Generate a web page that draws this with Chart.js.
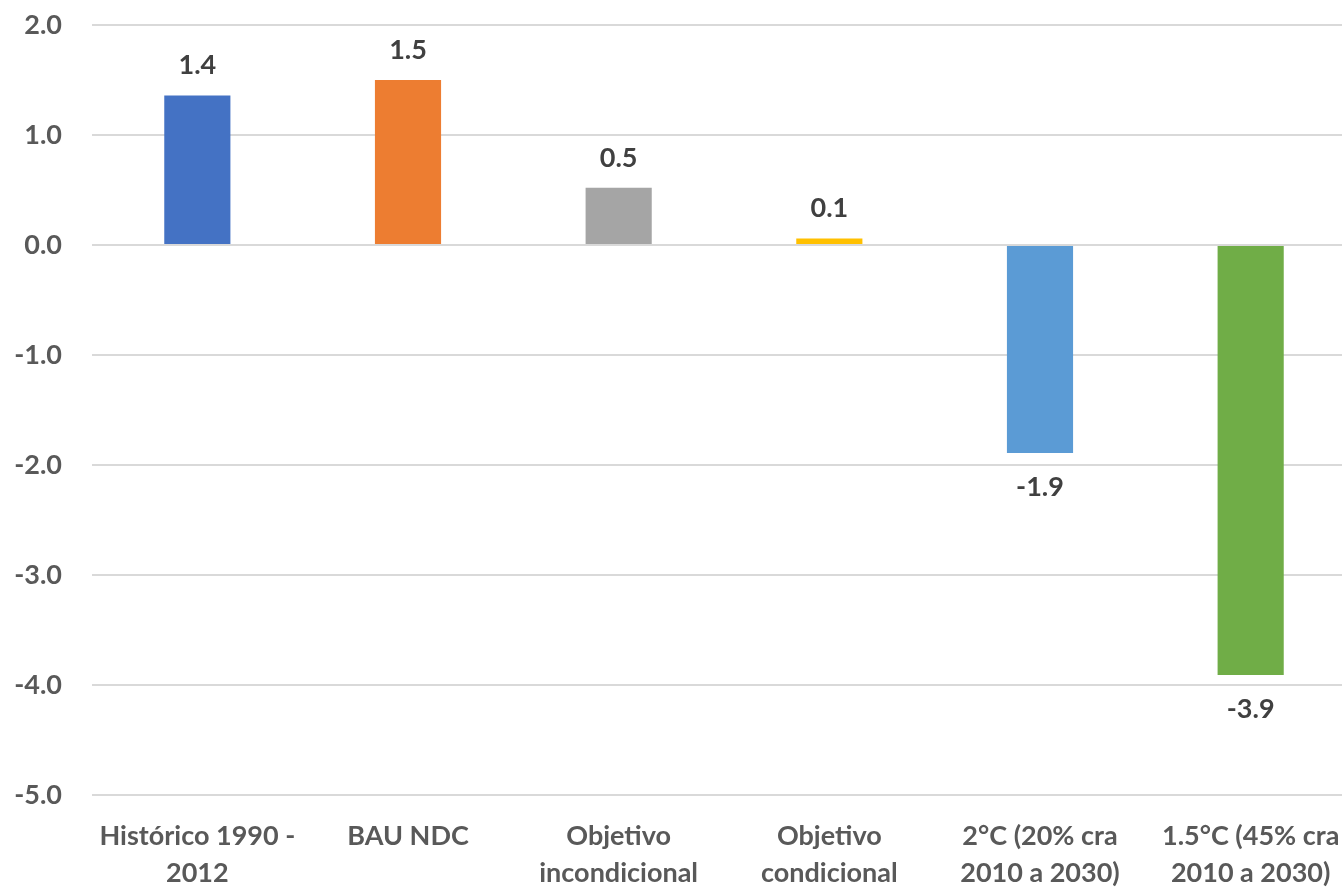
<!DOCTYPE html>
<html>
<head>
<meta charset="utf-8">
<script src="https://cdn.jsdelivr.net/npm/chart.js@4"></script>
<style>
  html, body { margin: 0; padding: 0; background: #fff; overflow: hidden; }
  #wrap { width: 1356px; height: 889px; }
</style>
</head>
<body>
<div id="wrap"><canvas id="chart" width="1356" height="889"></canvas></div>
<script>
// categorias (com quebra de linha como no original)
const categories = [
    ["Histórico 1990 -", "2012"],
    ["BAU NDC"],
    ["Objetivo", "incondicional"],
    ["Objetivo", "condicional"],
    ["2°C (20% cra", "2010 a 2030)"],
    ["1.5°C (45% cra", "2010 a 2030)"]
];
const values = [1.36, 1.5, 0.52, 0.06, -1.89, -3.91];
const valueLabels = ["1.4", "1.5", "0.5", "0.1", "-1.9", "-3.9"];
const barColors = ["#4472C4", "#ED7D31", "#A5A5A5", "#FFC000", "#5B9BD5", "#70AD47"];
const yTicks = [2, 1, 0, -1, -2, -3, -4, -5];

const fontFamily = "Lato, 'Open Sans', sans-serif";

// Plugin simples para escrever os valores acima / abaixo das barras
const valueLabelPlugin = {
    id: "valueLabels",
    afterDatasetsDraw(chart) {
        const ctx = chart.ctx;
        const meta = chart.getDatasetMeta(0);
        ctx.save();
        ctx.font = "bold 27px " + fontFamily;
        ctx.fillStyle = "#404040";
        ctx.textAlign = "center";
        ctx.textBaseline = "middle";
        meta.data.forEach((bar, i) => {
            const v = values[i];
            const y = v >= 0 ? bar.y - 30 : bar.y + 34;
            ctx.fillText(valueLabels[i], bar.x, y);
        });
        ctx.restore();
    }
};

new Chart(document.getElementById("chart"), {
    type: "bar",
    data: {
        labels: categories,
        datasets: [{
            data: values,
            backgroundColor: barColors,
            borderWidth: 0,
            categoryPercentage: 1,
            barPercentage: 0.314
        }]
    },
    options: {
        responsive: false,
        animation: false,
        layout: { padding: { top: 25, left: 0, right: 0, bottom: 0 } },
        plugins: {
            legend: { display: false },
            tooltip: { enabled: false }
        },
        scales: {
            x: {
                grid: { display: false },
                border: { display: false },
                ticks: {
                    color: "#595959",
                    font: { family: fontFamily, size: 27, weight: "bold", lineHeight: 1.4 },
                    padding: 14,
                    maxRotation: 0,
                    autoSkip: false
                },
                afterFit(scale) {
                    scale.height = 94;
                    scale.paddingLeft = 0;
                    scale.paddingRight = 0;
                }
            },
            y: {
                min: -5,
                max: 2,
                afterBuildTicks(scale) {
                    scale.ticks = yTicks.map(v => ({ value: v }));
                },
                grid: { color: "#d9d9d9", lineWidth: 2, drawTicks: false },
                border: { display: false },
                ticks: {
                    color: "#595959",
                    font: { family: fontFamily, size: 27, weight: "bold" },
                    padding: 30,
                    callback: v => v.toFixed(1)
                },
                afterFit(scale) {
                    scale.width = 92;
                    scale.paddingTop = 0;
                    scale.paddingBottom = 0;
                }
            }
        }
    },
    plugins: [valueLabelPlugin]
});
</script>
</body>
</html>
